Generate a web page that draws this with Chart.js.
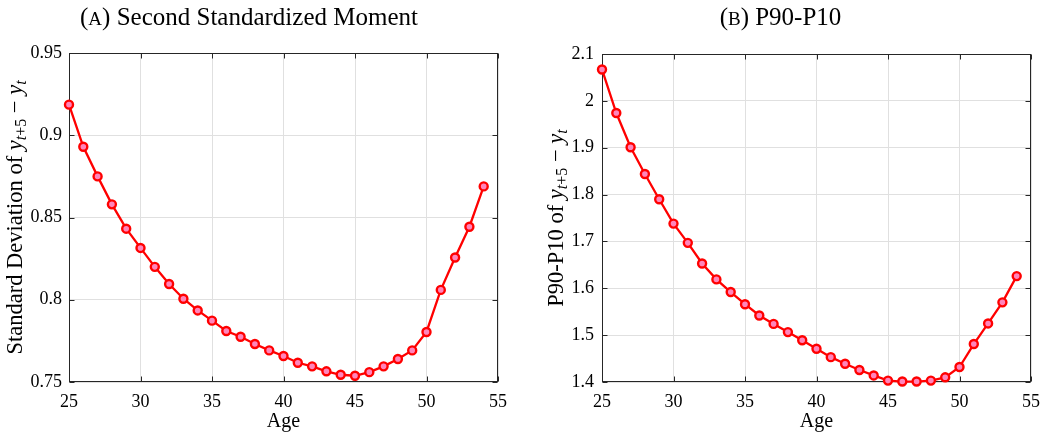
<!DOCTYPE html>
<html><head><meta charset="utf-8">
<script src="https://cdn.jsdelivr.net/npm/chart.js@4/dist/chart.umd.min.js"></script>
<style>
html,body{margin:0;padding:0;background:#fff;}
#wrap{position:relative;width:1059px;height:437px;overflow:hidden;}
#c1{position:absolute;left:0;top:0;}
#c2{position:absolute;left:530px;top:0;}
</style></head><body>
<div id="wrap"><canvas id="c1" width="530" height="437"></canvas><canvas id="c2" width="529" height="437"></canvas></div>
<script>
// ---- data ----
const ages = [25,26,27,28,29,30,31,32,33,34,35,36,37,38,39,40,41,42,43,44,45,46,47,48,49,50,51,52,53,54];
const stdDev = [0.9186,0.893,0.875,0.858,0.8432,0.8315,0.820,0.8096,0.8006,0.7935,0.7873,0.781,0.7775,0.7731,0.7692,0.7658,0.7617,0.7595,0.7565,0.7544,0.7538,0.756,0.7595,0.764,0.7692,0.7804,0.806,0.8257,0.8444,0.8689];
const p90p10 = [2.067,1.974,1.901,1.844,1.790,1.738,1.697,1.653,1.619,1.592,1.566,1.542,1.524,1.5065,1.489,1.471,1.453,1.439,1.4255,1.414,1.403,1.401,1.401,1.403,1.410,1.432,1.481,1.525,1.570,1.626];
const xTicks = [25,30,35,40,45,50,55];
const xTickLabels = ['25','30','35','40','45','50','55'];
const yTicksA = [0.75,0.8,0.85,0.9,0.95];
const yTickLabelsA = ['0.75','0.8','0.85','0.9','0.95'];
const yTicksB = [1.4,1.5,1.6,1.7,1.8,1.9,2,2.1];
const yTickLabelsB = ['1.4','1.5','1.6','1.7','1.8','1.9','2','2.1'];

const SERIF = '"Liberation Serif", "DejaVu Serif", serif';
const AXIS = '#262626';

function fontStr(s){ return (s.i ? 'italic ' : '') + s.s + 'px ' + SERIF; }
function drawRich(ctx, segs, cx, cy, rot){
  ctx.save();
  ctx.translate(cx, cy);
  if (rot) ctx.rotate(rot);
  ctx.textBaseline = 'alphabetic';
  ctx.textAlign = 'left';
  ctx.fillStyle = '#000';
  let w = 0;
  segs.forEach(s => { ctx.font = fontStr(s); s.w = ctx.measureText(s.t).width; w += s.w; });
  let x = -w/2;
  segs.forEach(s => { ctx.font = fontStr(s); ctx.fillText(s.t, x, s.dy || 0); x += s.w; });
  ctx.restore();
}

function makeChart(id, values, yTicks, yLabels, cfg){
  const labelPlugin = {
    id: 'labels_' + id,
    beforeDatasetsDraw(chart){
      const ctx = chart.ctx;
      const a = chart.chartArea;
      const xs = chart.scales.x, ys = chart.scales.y;
      const L = Math.round(a.left)+0.5, R = Math.round(a.right)-0.5, T = Math.round(a.top)+0.5, B = Math.round(a.bottom)-0.5;
      ctx.save();
      ctx.strokeStyle = AXIS;
      ctx.lineWidth = 1;
      const tl = 5;
      ctx.beginPath();
      xTicks.forEach(v => {
        const p = Math.round(xs.getPixelForValue(v)) + 0.5;
        ctx.moveTo(p, B); ctx.lineTo(p, B - tl);
        ctx.moveTo(p, T); ctx.lineTo(p, T + tl);
      });
      yTicks.forEach(v => {
        const p = Math.round(ys.getPixelForValue(v)) + 0.5;
        ctx.moveTo(L, p); ctx.lineTo(L + tl, p);
        ctx.moveTo(R, p); ctx.lineTo(R - tl, p);
      });
      ctx.stroke();
      ctx.strokeRect(L, T, R - L, B - T);
      ctx.restore();
    },
    afterDraw(chart){
      const ctx = chart.ctx;
      const a = chart.chartArea;
      drawRich(ctx, cfg.title, a.right / 2, 25, 0);
      drawRich(ctx, cfg.ylabel, cfg.ylabelX, (a.top + a.bottom) / 2, -Math.PI/2);
    }
  };
  return new Chart(document.getElementById(id), {
    type: 'line',
    data: {
      datasets: [{
        data: ages.map((a, i) => ({x: a, y: values[i]})),
        borderColor: '#ff0000',
        borderWidth: 2.3,
        pointRadius: 4,
        pointBorderWidth: 2.4,
        pointBackgroundColor: '#ff85bb',
        pointBorderColor: '#ff0000',
        tension: 0,
        clip: false
      }]
    },
    options: {
      responsive: false,
      animation: false,
      events: [],
      layout: { padding: { left: 0, right: cfg.padRight, top: cfg.padTop, bottom: 0 } },
      plugins: { legend: { display: false }, tooltip: { enabled: false }, title: { display: false } },
      scales: {
        x: {
          type: 'linear',
          min: xTicks[0], max: xTicks[xTicks.length - 1],
          afterBuildTicks: s => { s.ticks = xTicks.map(v => ({value: v})); },
          afterFit: s => { s.height = 55; },
          grid: { color: '#e0e0e0', lineWidth: 1, drawTicks: false },
          border: { display: false },
          ticks: {
            autoSkip: false, maxRotation: 0, padding: 9, color: '#000',
            font: { family: SERIF, size: 18 },
            callback: v => xTickLabels[xTicks.indexOf(v)]
          },
          title: { display: true, text: 'Age', color: '#000', font: { family: SERIF, size: 20 }, padding: { top: 0, bottom: 3 } }
        },
        y: {
          type: 'linear',
          min: yTicks[0], max: yTicks[yTicks.length - 1],
          afterBuildTicks: s => { s.ticks = yTicks.map(v => ({value: v})); },
          afterFit: s => { s.width = cfg.yWidth; },
          grid: { color: '#e0e0e0', lineWidth: 1, drawTicks: false },
          border: { display: false },
          ticks: {
            autoSkip: false, padding: cfg.yPad, color: '#000',
            font: { family: SERIF, size: 18 },
            callback: v => yLabels[yTicks.indexOf(v)]
          }
        }
      }
    },
    plugins: [labelPlugin]
  });
}

const subT = [{t:'y', s:22.5, i:true}, {t:'t', s:16, i:true, dy:4}, {t:'+5', s:16, dy:4}, {t:' \u2212 ', s:22.5}, {t:'y', s:22.5, i:true}, {t:'t', s:16, i:true, dy:4}];

makeChart('c1', stdDev, yTicksA, yTickLabelsA, {
  padRight: 32, padTop: 53, yWidth: 69, yPad: 7, ylabelX: 22,
  title: [{t:'(', s:25}, {t:'A', s:19}, {t:') Second Standardized Moment', s:25}],
  ylabel: [{t:'Standard Deviation of ', s:22.5}].concat(subT.map(o => Object.assign({}, o)))
});
makeChart('c2', p90p10, yTicksB, yTickLabelsB, {
  padRight: 28, padTop: 54, yWidth: 72, yPad: 8, ylabelX: 33,
  title: [{t:'(', s:25}, {t:'B', s:19}, {t:') P90-P10', s:25}],
  ylabel: [{t:'P90-P10 of ', s:22.5}].concat(subT.map(o => Object.assign({}, o)))
});
</script>
</body></html>
